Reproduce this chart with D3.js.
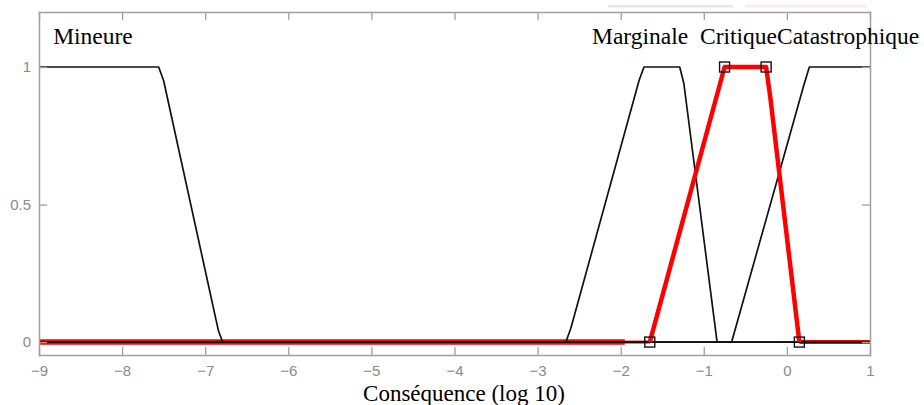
<!DOCTYPE html>
<html>
<head>
<meta charset="utf-8">
<script src="https://cdn.jsdelivr.net/npm/d3@7"></script>
<style>
body{margin:0;background:#fff;}
svg{display:block;}
</style>
</head>
<body>
<svg id="chart" width="924" height="405"></svg>
<script>
// ticks
var xTicks=[-9,-8,-7,-6,-5,-4,-3,-2,-1,0,1];
var yTicks=[0,0.5,1];
// membership functions (x = log10 consequence, y = degree)
var mineureX=[-9,-7.56,-7.5,-6.84,-6.79,1];
var mineureY=[1,1,0.95,0.04,0,0];
var marginaleX=[-9,-2.66,-2.6,-1.78,-1.72,-1.29,-1.24,-0.84,1];
var marginaleY=[0,0,0.05,0.95,1,1,0.94,0,0];
var critiqueX=[-9,-1.65,-0.75,-0.25,-0.2,0.15,1];
var critiqueY=[0,0,1,1,0.89,0,0];
var catastroX=[-9,-0.665,0.2,0.27,1];
var catastroY=[0,0,0.93,1,1];
// breakpoints of the selected set
var markX=[-1.65,-0.75,-0.25,0.15];
var markY=[0,1,1,0];
// the wide red band on the zero line stops here
var bandEnd=-1.95;
// set names
var names=["Mineure","Marginale","Critique","Catastrophique"];
var nameX=[-8.83,-2.345,-1.046,-0.119];

var svg=d3.select("#chart");
var x=d3.scaleLinear().domain([-9,1]).range([39,870]);
var y=d3.scaleLinear().domain([-0.047,1.2]).range([355,12]);

// faint strips above the frame
svg.append("rect").attr("x",608).attr("y",5).attr("width",125).attr("height",2.5).style("fill","#e6e6e6");
svg.append("rect").attr("x",745).attr("y",5).attr("width",122).attr("height",2.5).style("fill","#f2efe2");

function zip(a,b){return a.map(function(v,i){return [v,b[i]];});}
var line=d3.line().x(function(d){return x(d[0]);}).y(function(d){return y(d[1]);});

// red selected set: zero line parts first
svg.append("path")
   .attr("d",line([[critiqueX[0],0],[bandEnd,0]]))
   .style("fill","none").style("stroke","#ff0000").style("stroke-width",5.5);
svg.append("path")
   .attr("d",line([[bandEnd,0],[critiqueX[1],0]]))
   .style("fill","none").style("stroke","#ff0000").style("stroke-width",3);
svg.append("path")
   .attr("d",line([[critiqueX[5],0],[critiqueX[6],0]]))
   .style("fill","none").style("stroke","#ff0000").style("stroke-width",4);

[[mineureX,mineureY],[marginaleX,marginaleY],[critiqueX,critiqueY],[catastroX,catastroY]].forEach(function(s){
	svg.append("path")
	   .attr("d",line(zip(s[0],s[1])))
	   .style("fill","none")
	   .style("stroke","#111")
	   .style("stroke-width",1.7)
	   .style("stroke-linejoin","round");
});
// red on its sloped parts, above the black
svg.append("path")
   .attr("d",line(zip(critiqueX.slice(1,6),critiqueY.slice(1,6))))
   .style("fill","none")
   .style("stroke","#ff0000")
   .style("stroke-width",4.5)
   .style("stroke-linejoin","round");

svg.selectAll(".mark")
   .data(zip(markX,markY))
   .enter().append("rect")
   .attr("class","mark")
   .attr("x",function(d){return x(d[0])-5;})
   .attr("y",function(d){return y(d[1])-5;})
   .attr("width",10)
   .attr("height",10)
   .style("fill","none")
   .style("stroke","#111")
   .style("stroke-width",1.4);

// axes, ticks pointing inward
function styleAxis(g){
	g.select(".domain").style("stroke","#a0a0a0").style("stroke-width",1.5);
	g.selectAll(".tick line").style("stroke","#a0a0a0").style("stroke-width",1.3);
	g.selectAll("text").style("fill","#8a8a8a").style("font-family","'Liberation Sans',Arial,sans-serif").style("font-size","15px");
}
svg.append("g").attr("transform","translate(0,355)")
   .call(d3.axisBottom(x).tickValues(xTicks).tickSizeInner(-8).tickSizeOuter(0).tickPadding(10).tickFormat(d3.format("d")))
   .call(styleAxis);
svg.append("g").attr("transform","translate(0,12)")
   .call(d3.axisTop(x).tickValues(xTicks).tickSizeInner(-8).tickSizeOuter(0).tickFormat(""))
   .call(styleAxis);
svg.append("g").attr("transform","translate(39,0)")
   .call(d3.axisLeft(y).tickValues(yTicks).tickSizeInner(-8).tickSizeOuter(0).tickPadding(8).tickFormat(function(d){return d===0.5?"0.5":d3.format("d")(d);}))
   .call(styleAxis);
svg.append("g").attr("transform","translate(870,0)")
   .call(d3.axisRight(y).tickValues(yTicks).tickSizeInner(-8).tickSizeOuter(0).tickFormat(""))
   .call(styleAxis);
svg.selectAll(".domain").style("stroke-linecap","square");

// set names
svg.selectAll(".name")
   .data(names)
   .enter().append("text")
   .attr("class","name")
   .attr("x",function(d,i){return x(nameX[i]);})
   .attr("y",44)
   .style("font-family","'Liberation Serif','Times New Roman',serif")
   .style("font-size","23.5px")
   .style("fill","#000")
   .text(function(d){return d;});

svg.append("text")
   .attr("x",464)
   .attr("y",401)
   .attr("text-anchor","middle")
   .style("font-family","'Liberation Serif','Times New Roman',serif")
   .style("font-size","23px")
   .style("fill","#000")
   .text("Conséquence (log 10)");
</script>
</body>
</html>
